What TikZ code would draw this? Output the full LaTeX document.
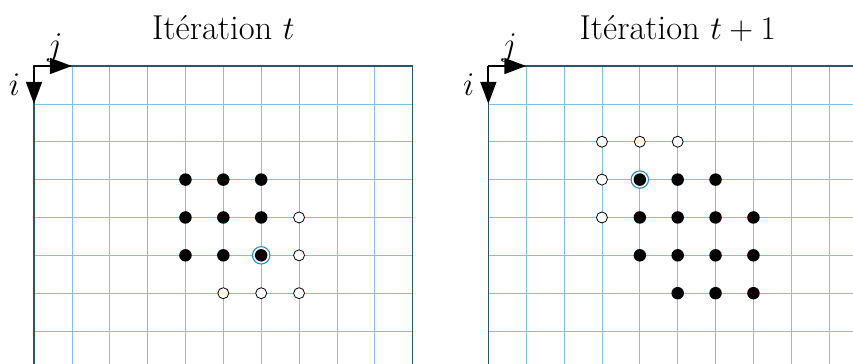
\documentclass[tikz,border=0pt]{standalone}
\usepackage{fontspec}
\usetikzlibrary{arrows.meta}
\definecolor{gridblue}{RGB}{125,195,232}
\definecolor{ringblue}{RGB}{25,140,205}
\definecolor{frame}{RGB}{45,85,105}
\tikzset{
  gridline/.style={gridblue,line width=0.55pt},
  framebox/.style={frame,line width=0.9pt},
  axis/.style={line width=1.4pt,-{Triangle[length=0.58cm,width=0.42cm]}},
  fdot/.style={circle,fill=black,inner sep=0pt,minimum size=0.33cm},
  odot/.style={circle,draw=black,fill=white,inner sep=0pt,minimum size=0.29cm,line width=0.6pt},
  ring/.style={circle,draw=ringblue,fill=white,inner sep=0pt,minimum size=0.46cm,line width=0.8pt},
  bigtext/.style={font=\fontsize{26}{31}\selectfont,inner sep=0pt},
}
\begin{document}
\begin{tikzpicture}
\clip (-0.898,-7.845) rectangle (21.63,1.743);
% ---- left panel ----
\foreach \x in {1,...,9} \draw[gridline] (\x,0) -- (\x,-10);
\foreach \y in {1,...,9} \draw[gridline] (0,-\y) -- (10,-\y);
\draw[framebox] (0,-10) -- (0,0) -- (10,0) -- (10,-10);
\coordinate (oL) at (0,0);
\coordinate (jL) at (1,0);
\coordinate (iL) at (0,-1);
\draw[axis] (oL) -- (jL);
\draw[axis] (oL) -- (iL);
\node[bigtext] (jlabL) at (0.55,0.49) {$j$};
\node[bigtext] (ilabL) at (-0.52,-0.5) {$i$};
\node[bigtext,anchor=base] (titleL) at (5,0.713) {Itération $t$};
% dots left
\node[fdot] (L34) at (4,-3) {};
\node[fdot] (L35) at (5,-3) {};
\node[fdot] (L36) at (6,-3) {};
\node[fdot] (L44) at (4,-4) {};
\node[fdot] (L45) at (5,-4) {};
\node[fdot] (L46) at (6,-4) {};
\node[odot] (L47) at (7,-4) {};
\node[fdot] (L54) at (4,-5) {};
\node[fdot] (L55) at (5,-5) {};
\node[ring] (L56r) at (6,-5) {};
\node[fdot] (L56) at (6,-5) {};
\node[odot] (L57) at (7,-5) {};
\node[odot] (L65) at (5,-6) {};
\node[odot] (L66) at (6,-6) {};
\node[odot] (L67) at (7,-6) {};
% ---- right panel ----
\begin{scope}[xshift=12cm]
\foreach \x in {1,...,9} \draw[gridline] (\x,0) -- (\x,-10);
\foreach \y in {1,...,9} \draw[gridline] (0,-\y) -- (10,-\y);
\draw[framebox] (0,-10) -- (0,0) -- (10,0) -- (10,-10);
\coordinate (oR) at (0,0);
\coordinate (jR) at (1,0);
\coordinate (iR) at (0,-1);
\draw[axis] (oR) -- (jR);
\draw[axis] (oR) -- (iR);
\node[bigtext] (jlabR) at (0.55,0.49) {$j$};
\node[bigtext] (ilabR) at (-0.52,-0.5) {$i$};
\node[bigtext,anchor=base] (titleR) at (5,0.713) {Itération $t+1$};
\node[odot] (R23) at (3,-2) {};
\node[odot] (R24) at (4,-2) {};
\node[odot] (R25) at (5,-2) {};
\node[odot] (R33) at (3,-3) {};
\node[ring] (R34r) at (4,-3) {};
\node[fdot] (R34) at (4,-3) {};
\node[fdot] (R35) at (5,-3) {};
\node[fdot] (R36) at (6,-3) {};
\node[odot] (R43) at (3,-4) {};
\node[fdot] (R44) at (4,-4) {};
\node[fdot] (R45) at (5,-4) {};
\node[fdot] (R46) at (6,-4) {};
\node[fdot] (R47) at (7,-4) {};
\node[fdot] (R54) at (4,-5) {};
\node[fdot] (R55) at (5,-5) {};
\node[fdot] (R56) at (6,-5) {};
\node[fdot] (R57) at (7,-5) {};
\node[fdot] (R65) at (5,-6) {};
\node[fdot] (R66) at (6,-6) {};
\node[fdot] (R67) at (7,-6) {};
\end{scope}
\end{tikzpicture}
\end{document}
